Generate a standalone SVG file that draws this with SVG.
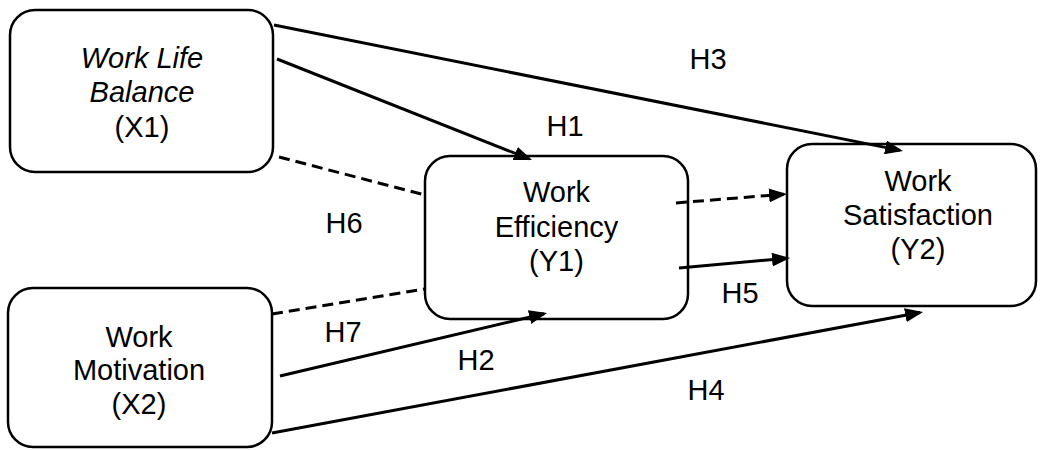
<svg xmlns="http://www.w3.org/2000/svg" width="1040" height="450" viewBox="0 0 1040 450">
<style>
.box{fill:#fff;stroke:#000;stroke-width:2.5}
.t{font-family:"Liberation Sans",Arial,sans-serif;font-size:29px;fill:#000;text-anchor:middle}
.it{font-style:italic}
.ln{stroke:#000;stroke-width:3;fill:none}
.dash{stroke-dasharray:11 6}
.arr{marker-end:url(#ah)}
</style>
<defs>
<marker id="ah" markerUnits="userSpaceOnUse" markerWidth="18" markerHeight="14" refX="15" refY="7" orient="auto">
<path d="M0,0 L18,7 L0,14 z" fill="#000"/>
</marker>
</defs>
<rect width="1040" height="450" fill="#fff"/>
<g id="node-x1">
<rect class="box" x="10" y="10" width="263" height="162" rx="25"/>
<text class="t it" x="142" y="68">Work Life</text>
<text class="t it" x="142" y="102">Balance</text>
<text class="t" x="142" y="137">(X1)</text>
</g>
<g id="node-y1">
<rect class="box" x="425" y="156" width="263" height="163" rx="25"/>
<text class="t" x="556.5" y="202">Work</text>
<text class="t" x="556.5" y="237">Efficiency</text>
<text class="t" x="556.5" y="271">(Y1)</text>
</g>
<g id="node-y2">
<rect class="box" x="787" y="144" width="249" height="162" rx="25"/>
<text class="t" x="918" y="191">Work</text>
<text class="t" x="918" y="225">Satisfaction</text>
<text class="t" x="918" y="259">(Y2)</text>
</g>
<g id="node-x2">
<rect class="box" x="8" y="288" width="264" height="159" rx="25"/>
<text class="t" x="139" y="347">Work</text>
<text class="t" x="139" y="380">Motivation</text>
<text class="t" x="139" y="414">(X2)</text>
</g>
<g id="connectors">
<line class="ln arr" x1="274" y1="25" x2="900.1" y2="150.4"/>
<line class="ln arr" x1="277" y1="59" x2="529.2" y2="158.9"/>
<line class="ln dash" x1="279" y1="157" x2="425" y2="195"/>
<line class="ln dash" x1="272" y1="314" x2="425" y2="289"/>
<line class="ln arr" x1="280" y1="376" x2="544.1" y2="313.7"/>
<line class="ln arr" x1="272" y1="433" x2="920.1" y2="312.5"/>
<line class="ln dash arr" x1="676" y1="203" x2="784" y2="194.2"/>
<line class="ln arr" x1="679" y1="268" x2="787" y2="258.3"/>
<g id="labels">
<text class="t" x="708" y="69">H3</text>
<text class="t" x="565" y="136">H1</text>
<text class="t" x="344" y="233">H6</text>
<text class="t" x="343" y="342">H7</text>
<text class="t" x="476" y="370">H2</text>
<text class="t" x="740" y="303">H5</text>
<text class="t" x="706" y="400">H4</text>
</g>
</g>
</svg>
